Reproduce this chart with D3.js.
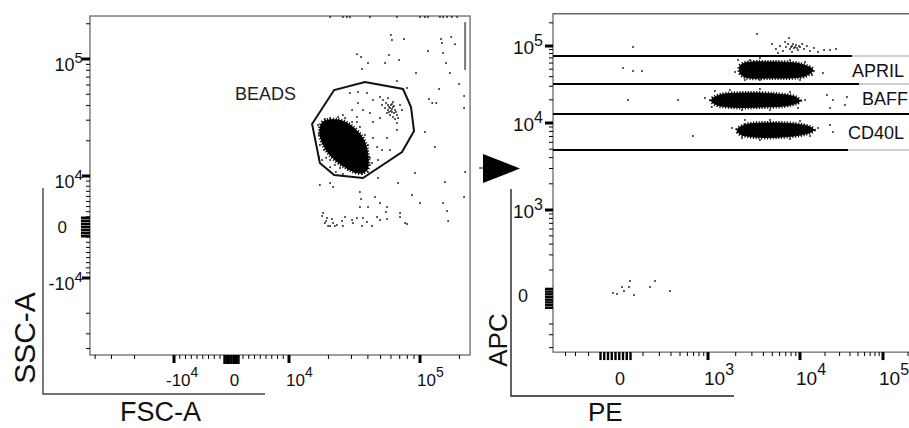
<!DOCTYPE html>
<html>
<head>
<meta charset="utf-8">
<script src="https://cdn.jsdelivr.net/npm/d3@7"></script>
<style>
  body { margin: 0; background: #fff; }
  svg { display: block; font-family: "Liberation Sans", Arial, Helvetica, sans-serif; }
</style>
</head>
<body>
<svg id="chart" width="909" height="428"></svg>
<script>
// ---- data: left plot (FSC-A vs SSC-A) ----
const fscRange = [-43800, 241000];
const sscRange = [-45500, 233000];

// gate drawn around the bead population
const beadsGate = [[15000,27800],[22100,54300],[38000,63600],[74200,55400],[85400,38900],
  [90000,24200],[72900,16000],[36700,9610],[22100,10200],[17200,12900]];

// outline of the saturated dense bead cloud
const beadCore = [[18200,29000],[23700,30100],[29200,27300],[36100,21500],[39400,16700],
  [39400,11300],[34800,10600],[26800,11900],[20600,15100],[17900,19500],[17200,24700]];

const beadEdge = [[16650,27300],[16900,22400],[17200,18400],[18500,16700],[19200,14300],[20600,13700],
  [22400,12400],[24500,11700],[28200,11300],[31900,10800],[36100,10400],[40100,10800],[41500,12400],
  [41500,14300],[40100,18400],[38000,22400],[34800,26200],[30300,29000],[26800,31300],[23700,31900],
  [20600,31300],[18800,30700]];

const smallCluster = [[52200,44600],[55000,42100],[57000,46400],[60000,40400],[62200,38900],[64500,36600],
  [61100,35200],[57000,36600],[54100,38100],[66700,33200],[68000,31300],[64500,30700],[59000,33200],
  [56000,34500],[62200,42900],[70400,40400],[72900,36600],[51300,40400],[66700,28400],[62200,31900],
  [58000,38900],[63300,34500],[59000,38100],[61100,37400],[60000,35900],[58000,35200],[63300,39700],
  [65600,35200],[61100,41200],[57000,40400]];

const inGate = [[25800,33200],[30300,36600],[33600,42100],[39400,51200],[43800,44600],[49500,47300],
  [36700,36600],[41500,34500],[43800,29000],[49500,31300],[33000,31900],[29200,51200],[33600,52200],
  [43800,21100],[47000,17700],[56000,21100],[51300,16700],[47800,13700],[43000,12900],[59000,16700],
  [66700,24700],[33000,29000],[16900,14500],[17900,13700],[22800,10800],[25800,10400],[20600,11900]];

const outside = [[60000,160000],[61100,145000],[75500,148000],[144600,148000],[173000,154000],
  [147000,137000],[185000,134000],[33000,110000],[35500,104000],[58000,108000],[69200,98000],
  [115000,117000],[150000,112500],[158000,92500],[40100,92500],[36100,82200],[54100,92500],
  [93200,75900],[169000,75900],[66700,64900],[79600,56500],[140000,55400],[199000,61100],
  [217000,48300],[117000,45500],[124000,42100],[133000,42100],[217000,38100],[109000,23800],
  [130000,17700],[221000,10800],[155000,8820],[217000,5880],[91600,10600],[68000,8630],[47800,9610],
  [86900,6270],[100000,4710],[150000,4710],[161000,3140],[17200,8240],[20600,8630],[21700,7840],
  [34800,6860],[35500,5490],[45400,5880],[49500,4710],[40100,3920],[34800,3920],[56000,3920],
  [55000,2940],[70400,2750],[76900,780],[47000,1960],[49500,1370]];

const debris = [[18200,2750],[19500,1760],[21300,1570],[21700,780],[23200,390],[25400,1180],
  [26800,1960],[30300,1370],[33000,1760],[30800,780],[36700,1760],[39400,980],[18800,780],[19900,200],
  [17900,2160],[19200,1180],[20600,200],[22400,200],[25800,200],[36100,200],[43000,200],[56000,1570],
  [70400,1960],[79600,590],[164000,1180]];

// events piled at the top of the SSC range, and at the FSC maximum
const fscAtSscMax = [20600,25800,27700,29200,41500,66700,100000,109000,115000,142000,150000,161000,175000,192000];
const sscMaxValue = 229000;
const fscMaxValue = 221000;
const sscAtFscMax = [80500, 207000];

// ---- data: right plot (PE vs APC) ----
const peRange = [-7960, 262144];
const apcRange = [-2190, 262144];

const gateNames = ['APRIL', 'BAFF', 'CD40L'];
const gateHigh = [74100, 32100, 13100];
const gateLow = [32100, 13100, 4890];
const gateLines = [74100, 32100, 13100, 4890];
const gateLabelPE = [42300, 51400, 37900];
const lineFadePE = [42300, 51400, null, 37900];

const aprilCore = [[2230,55000],[2520,60100],[4720,62000],[10000,58400],[14300,48800],
  [11500,40800],[4720,38400],[2520,39600],[2230,44600]];
const baffCore = [[1080,19900],[1350,23100],[2520,24500],[5350,23800],[8830,21800],
  [10000,19300],[7790,17100],[3670,16100],[1730,16100],[1190,17600]];
const cd40lCore = [[2070,8310],[2520,9480],[4170,10000],[8830,9740],[13200,8990],
  [14700,8310],[11500,7470],[6060,6900],[3240,6900],[2230,7470]];

const topCluster = [[4960,106000],[5480,91400],[6060,100000],[6530,86100],[7040,97100],[7410,106000],
  [7790,91400],[8190,100000],[8610,94200],[9050,103000],[9510,88700],[10000,97100],[10600,106000],
  [11200,91400],[12100,100000],[13200,86100],[14700,94200],[16500,83600],[19500,88700],[23000,88700],
  [27100,91400],[5770,81100],[8190,83600],[6870,112700],[7590,127000],[3410,143000],[8000,97100],
  [8830,97100],[9280,94200],[8400,106000],[9750,100000]];

const coreEdge = [[2120,65800],[2860,65800],[3670,69800],[7790,65800],[11500,62000],[13950,42000],
  [10000,36200],[3670,36200],[2520,36200],[1970,46000],
  [929,21100],[1190,26000],[1730,26800],[3670,27600],[7790,25300],[11500,19900],[9510,15700],
  [4720,14700],[2340,14700],[1100,16100],
  [1820,8760],[2520,10900],[4720,10900],[10000,10600],[16500,8760],[13200,7090],[7790,6550],
  [3670,6380],[2340,6720]];

const rightOutliers = [[120,97100],[40,51800],[120,47300],[192,47300],[80,19900],[476,19900],
  [689,7090],[21100,23100],[25000,19900],[36800,21800],[23000,15700],[34800,17100],[23000,9480],
  [25000,7880],[18900,44600]];

const nearZero = [[-40,30],[-8,22],[32,74],[48,44],[88,74],[96,119],[128,15],[238,74],[269,119],[390,44]];

// ---- tick values & labels ----
const leftMajor = [-1e4, 1e4, 1e5];
const leftMinor = [-4e4, -3e4, -2e4, -9000, -8000, -7000, -6000, -5000, -4000, -3000, -2000,
  2000, 3000, 4000, 5000, 6000, 7000, 8000, 9000, 2e4, 3e4, 4e4, 5e4, 6e4, 7e4, 8e4, 9e4, 2e5];
const leftXZero = [-1200, -800, -400, 0, 400, 800, 1200];
const leftYZero = [-1800, -1200, -600, 0, 600, 1200, 1800];
const leftLabels = [{v: -1e4, base: '-10', exp: '4'}, {v: 0, base: '0'}, {v: 1e4, base: '10', exp: '4'}, {v: 1e5, base: '10', exp: '5'}];

const rightMajor = [1e3, 1e4, 1e5];
const rightMinor = [200, 300, 400, 500, 600, 700, 800, 900, 2e3, 3e3, 4e3, 5e3, 6e3, 7e3, 8e3, 9e3,
  2e4, 3e4, 4e4, 5e4, 6e4, 7e4, 8e4, 9e4, 2e5];
const peNegMinor = [-300, -1000, -2500];
const apcNegMinor = [-200, -500, -1500];
const peZero = [-140, -110, -80, -50, -20, 10, 40, 70, 100];
const apcZero = [60, 40, 20, 0, -20, -40, -60, -80];
const rightXLabels = [{v: 0, base: '0'}, {v: 1e3, base: '10', exp: '3'}, {v: 1e4, base: '10', exp: '4'}, {v: 1e5, base: '10', exp: '5'}];
const rightYLabels = [{v: 0, base: '0'}, {v: 1e3, base: '10', exp: '3'}, {v: 1e4, base: '10', exp: '4'}, {v: 1e5, base: '10', exp: '5'}];

// ---- scales ----
// linear near zero, log10 beyond +-lin (biexponential style display)
const biex = lin => v => Math.abs(v) <= lin ? v / lin : Math.sign(v) * (1 + Math.log10(Math.abs(v) / lin));
const tL = biex(1e4), tR = biex(200);

const xL = d3.scaleLinear().domain([-1e5, -1e4, 0, 1e4, 1e5].map(tL)).range([43, 174, 231.5, 289, 420]);
const yL = d3.scaleLinear().domain([-1e5, -1e4, 0, 1e4, 1e5].map(tL)).range([395, 278, 227, 176, 59]);
const xR = d3.scaleLinear().domain([0, 200, 1e3, 1e4, 1e5].map(tR)).range([618, 643, 708, 800, 883]);
const yR = d3.scaleLinear().domain([0, 200, 1e3, 1e4, 1e5].map(tR)).range([297, 270, 210, 123, 46]);

const fsc = v => xL(tL(v)), ssc = v => yL(tL(v));
const pe = v => xR(tR(v)), apc = v => yR(tR(v));

const svg = d3.select('#chart');
const blob = d3.line().curve(d3.curveCatmullRomClosed.alpha(0.5));

// ---- left plot ----
const gl = svg.append('g');

gl.append('rect')
  .attr('x', fsc(fscRange[0])).attr('y', ssc(sscRange[1]))
  .attr('width', fsc(fscRange[1]) - fsc(fscRange[0]))
  .attr('height', ssc(sscRange[0]) - ssc(sscRange[1]))
  .attr('fill', 'none').attr('stroke', '#6a6a6a').attr('stroke-width', 1.3);

const dotsL = [].concat(outside, debris, inGate, smallCluster, beadEdge, fscAtSscMax.map(f => [f, sscMaxValue]));
gl.append('g').selectAll('circle')
  .data(dotsL)
  .join('circle')
  .attr('cx', d => fsc(d[0]))
  .attr('cy', d => ssc(d[1]))
  .attr('r', 1)
  .attr('fill', '#2a2a2a');

gl.append('line')
  .attr('x1', fsc(fscMaxValue)).attr('x2', fsc(fscMaxValue))
  .attr('y1', ssc(sscAtFscMax[0])).attr('y2', ssc(sscAtFscMax[1]))
  .attr('stroke', '#777').attr('stroke-width', 2);

const corePts = beadCore.map(d => [fsc(d[0]), ssc(d[1])]);
gl.append('path').attr('d', blob(corePts))
  .attr('fill', 'none').attr('stroke', '#111').attr('stroke-width', 4).attr('stroke-dasharray', '1.2,1.6');
gl.append('path').attr('d', blob(corePts))
  .attr('fill', '#000').attr('stroke', '#000').attr('stroke-width', 1);

gl.append('path')
  .attr('d', d3.line().curve(d3.curveLinearClosed)(beadsGate.map(d => [fsc(d[0]), ssc(d[1])])))
  .attr('fill', 'none').attr('stroke', '#111').attr('stroke-width', 2);

gl.append('text').attr('x', 235).attr('y', 100)
  .attr('font-size', 18).attr('fill', '#222').text('BEADS');

// left x ticks
const yb = ssc(sscRange[0]);
const tickLine = (g, data, f, horiz, at, len, w) => g.append('g').selectAll('line')
  .data(data).join('line')
  .attr(horiz ? 'x1' : 'y1', d => f(d)).attr(horiz ? 'x2' : 'y2', d => f(d))
  .attr(horiz ? 'y1' : 'x1', at).attr(horiz ? 'y2' : 'x2', at + len)
  .attr('stroke', '#000').attr('stroke-width', w);

tickLine(gl, leftMinor.filter(v => v > fscRange[0] && v < fscRange[1]), fsc, true, yb, 4, 1);
tickLine(gl, leftMajor, fsc, true, yb, 8, 3);
tickLine(gl, leftXZero, fsc, true, yb, 9, 2.6);

const xl0 = fsc(fscRange[0]);
tickLine(gl, leftMinor.filter(v => v > sscRange[0] && v < sscRange[1]), ssc, false, xl0, -4, 1);
tickLine(gl, leftMajor, ssc, false, xl0, -8, 3);
tickLine(gl, leftYZero, ssc, false, xl0, -9, 2.6);

function powLabel(g, d, x, y, anchor, size, esize, edy) {
  const t = g.append('text').attr('x', x).attr('y', y).attr('text-anchor', anchor)
    .attr('font-size', size).attr('fill', '#111');
  t.append('tspan').text(d.base);
  if (d.exp) t.append('tspan').attr('font-size', esize).attr('dy', edy).text(d.exp);
}

leftLabels.forEach(d => {
  const x = fsc(d.v);
  if (d.exp) powLabel(gl, d, x - 3 - (d.v < 0 ? 5 : 0), yb + 31, 'start', 17, 14, -9);
  else powLabel(gl, d, x + 3, yb + 31, 'middle', 17, 14, 0);
});
leftLabels.forEach(d => {
  const y = ssc(d.v);
  if (d.exp) powLabel(gl, d, xl0 - 7, y + 12, 'end', 18, 15, -8);
  else powLabel(gl, d, xl0 - 23, y + 6, 'end', 17, 14, 0);
});

// axis title frame
gl.append('path').attr('d', 'M43,188V394H265')
  .attr('fill', 'none').attr('stroke', '#444').attr('stroke-width', 1.4);
gl.append('text').attr('transform', 'translate(35,338) rotate(-90)').attr('text-anchor', 'middle')
  .attr('font-size', 30).attr('fill', '#111').text('SSC-A');
gl.append('text').attr('x', 120).attr('y', 421).attr('font-size', 27).attr('fill', '#111').text('FSC-A');

// arrow between plots
svg.append('path').attr('d', 'M479,168H483').attr('stroke', '#000').attr('stroke-width', 1);
svg.append('path').attr('d', 'M483,154L520,168.5L483,183Z').attr('fill', '#000');

// ---- right plot ----
const gr = svg.append('g');
const xr0 = pe(peRange[0]), xr1 = pe(peRange[1]);
const yrTop = apc(apcRange[1]), yrBot = apc(apcRange[0]);

gr.append('path').attr('d', `M${xr1},${yrTop}H${xr0}V${yrBot}H${xr1}`)
  .attr('fill', 'none').attr('stroke', '#6a6a6a').attr('stroke-width', 1.3);

const dotsR = [].concat(topCluster, coreEdge, rightOutliers, nearZero);
gr.append('g').selectAll('circle')
  .data(dotsR)
  .join('circle')
  .attr('cx', d => pe(d[0]))
  .attr('cy', d => apc(d[1]))
  .attr('r', 1)
  .attr('fill', '#2a2a2a');

[aprilCore, baffCore, cd40lCore].forEach(core => {
  const pts = core.map(d => [pe(d[0]), apc(d[1])]);
  gr.append('path').attr('d', blob(pts))
    .attr('fill', 'none').attr('stroke', '#111').attr('stroke-width', 4).attr('stroke-dasharray', '1.2,1.6');
  gr.append('path').attr('d', blob(pts))
    .attr('fill', '#000').attr('stroke', '#000').attr('stroke-width', 1);
});

// gate boundaries
gateLines.forEach((v, i) => {
  const fade = lineFadePE[i];
  const xEnd = fade == null ? xr1 : pe(fade);
  gr.append('line').attr('x1', xr0).attr('x2', xEnd).attr('y1', apc(v)).attr('y2', apc(v))
    .attr('stroke', '#000').attr('stroke-width', 2);
  if (fade != null) gr.append('line').attr('x1', xEnd).attr('x2', xr1).attr('y1', apc(v)).attr('y2', apc(v))
    .attr('stroke', '#cfcfcf').attr('stroke-width', 2);
});
gateNames.forEach((name, i) => {
  const yc = (apc(gateHigh[i]) + apc(gateLow[i])) / 2;
  gr.append('text').attr('x', pe(gateLabelPE[i]) + (i === 1 ? 3 : 0)).attr('y', yc + 6.5)
    .attr('font-size', 18).attr('fill', '#111').text(name);
});

// right ticks
tickLine(gr, rightMinor.concat(peNegMinor), pe, true, yrBot, 4, 1);
tickLine(gr, rightMajor, pe, true, yrBot, 8, 3);
tickLine(gr, peZero, pe, true, yrBot, 8, 2.4);
tickLine(gr, rightMinor.concat(apcNegMinor), apc, false, xr0, -4, 1);
tickLine(gr, rightMajor, apc, false, xr0, -8, 3);
tickLine(gr, apcZero, apc, false, xr0, -8, 2.4);

rightXLabels.forEach(d => {
  const x = pe(d.v);
  if (d.exp) powLabel(gr, d, x - 4, yrBot + 33, 'start', 19, 16, -10);
  else powLabel(gr, d, x + 2, yrBot + 33, 'middle', 18, 15, 0);
});
rightYLabels.forEach(d => {
  const y = apc(d.v);
  if (d.exp) powLabel(gr, d, xr0 - 10, y + 8, 'end', 19, 16, -8);
  else powLabel(gr, d, xr0 - 25, y + 5, 'end', 18, 15, 0);
});

gr.append('path').attr('d', 'M511,189V396H734')
  .attr('fill', 'none').attr('stroke', '#222').attr('stroke-width', 1.4);
gr.append('text').attr('transform', 'translate(507,340) rotate(-90)').attr('text-anchor', 'middle')
  .attr('font-size', 26).attr('fill', '#111').text('APC');
gr.append('text').attr('x', 588).attr('y', 421).attr('font-size', 26).attr('fill', '#111').text('PE');
</script>
</body>
</html>
